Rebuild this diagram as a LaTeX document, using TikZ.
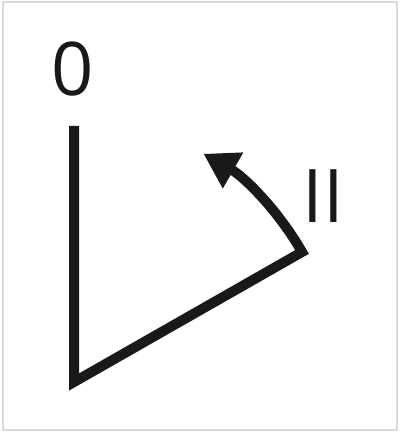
\documentclass[tikz,border=0pt]{standalone}
\usepackage{fontspec}
\setmainfont{Open Sans}
\usetikzlibrary{arrows.meta}

\begin{document}
\begin{tikzpicture}[
  x=1pt, y=1pt,
  frame/.style={draw=black!15, line width=1.5pt},
  lever/.style={line width=10pt, line join=miter, draw=black!90},
  lbl/.style={font=\fontsize{74}{74}\selectfont, inner sep=0pt, text=black!90},
  arr/.style={-{Triangle[length=34pt,width=39pt]}}
]
\useasboundingbox (0,0) rectangle (400,432);
\draw[frame] (3,2) rectangle (397,430);

\node[lbl] (zero) at (73,363) {0};
\node[lbl] (two) at (323.5,236) {II};

\coordinate (top) at (74,306);
\coordinate (pivot) at (74,50);
\coordinate (blade) at (302,180);

\draw[lever, arr] (top) -- (pivot) -- (blade)
  arc[start angle=29.7, end angle=60.5, radius=262];
\end{tikzpicture}
\end{document}
